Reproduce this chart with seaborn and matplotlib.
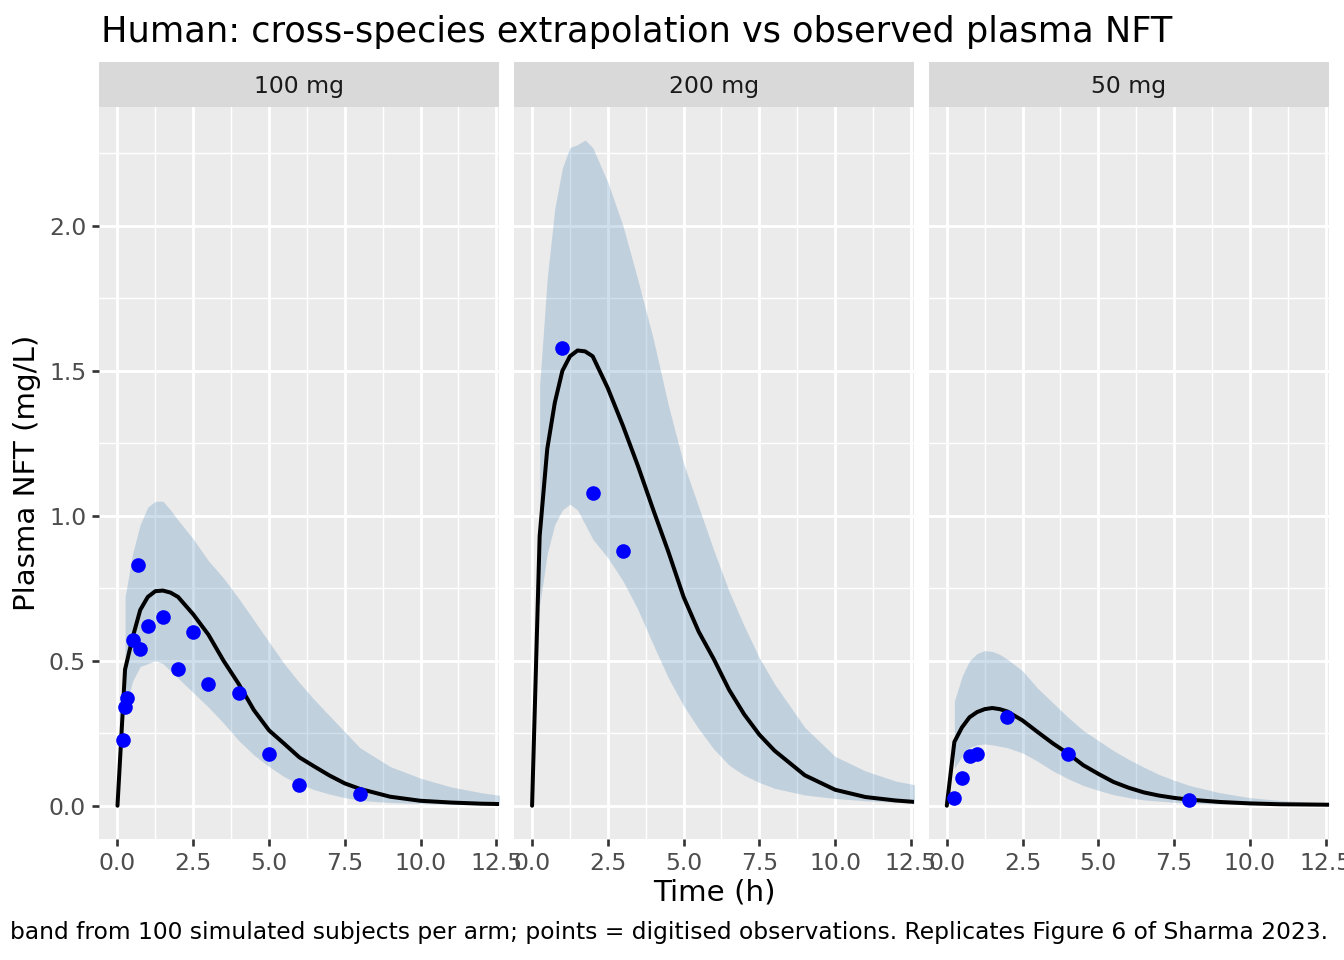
import numpy as np
import pandas as pd
import matplotlib
matplotlib.use("Agg")
import matplotlib.pyplot as plt
from matplotlib.ticker import MultipleLocator, FormatStrFormatter
import seaborn as sns

# simulation time grid (h)
time = [0, 0.25, 0.5, 0.75, 1.0, 1.25, 1.5, 1.75, 2.0, 2.5, 3.0, 3.5, 4.0, 4.5,
        5.0, 5.5, 6.0, 6.5, 7.0, 7.5, 8.0, 9, 10, 11, 12, 13]
nan = np.nan

# median and 5-95% band per dose arm (mg/L)
med_100 = [0, 0.47, 0.58, 0.675, 0.72, 0.74, 0.742, 0.735, 0.72, 0.66, 0.59, 0.50, 0.42, 0.33,
           0.26, 0.214, 0.167, 0.135, 0.104, 0.077, 0.058, 0.031, 0.017, 0.011, 0.007, 0.005]
lo_100 = [nan, 0.33, 0.43, 0.48, 0.49, 0.50, 0.49, 0.465, 0.44, 0.39, 0.34, 0.285, 0.225, 0.175,
          0.135, 0.10, 0.075, 0.055, 0.04, 0.028, 0.018, 0.011, 0.008, 0.005, 0.004, 0.003]
hi_100 = [nan, 0.72, 0.87, 0.97, 1.03, 1.05, 1.05, 1.02, 0.985, 0.92, 0.845, 0.785, 0.715, 0.64,
          0.565, 0.49, 0.425, 0.365, 0.31, 0.255, 0.20, 0.135, 0.095, 0.065, 0.045, 0.03]

med_200 = [0, 0.93, 1.23, 1.39, 1.50, 1.55, 1.57, 1.567, 1.55, 1.44, 1.31, 1.17, 1.02, 0.875,
           0.72, 0.60, 0.505, 0.40, 0.315, 0.245, 0.19, 0.105, 0.055, 0.03, 0.018, 0.01]
lo_200 = [nan, 0.69, 0.87, 0.97, 1.02, 1.04, 1.02, 0.97, 0.92, 0.855, 0.775, 0.675, 0.555, 0.44,
          0.345, 0.265, 0.195, 0.14, 0.105, 0.08, 0.06, 0.037, 0.025, 0.017, 0.012, 0.009]
hi_200 = [nan, 1.45, 1.82, 2.06, 2.20, 2.27, 2.28, 2.296, 2.27, 2.15, 2.00, 1.81, 1.61, 1.38,
          1.18, 1.03, 0.88, 0.74, 0.62, 0.51, 0.42, 0.27, 0.17, 0.12, 0.085, 0.065]

med_50 = [0, 0.22, 0.27, 0.305, 0.323, 0.333, 0.337, 0.333, 0.325, 0.294, 0.254, 0.215, 0.18, 0.14,
          0.11, 0.082, 0.062, 0.046, 0.035, 0.027, 0.021, 0.013, 0.008, 0.005, 0.004, 0.003]
lo_50 = [nan, 0.13, 0.17, 0.20, 0.21, 0.213, 0.21, 0.205, 0.20, 0.182, 0.153, 0.12, 0.093, 0.07,
         0.053, 0.038, 0.028, 0.02, 0.016, 0.012, 0.009, 0.006, 0.004, 0.003, 0.002, 0.002]
hi_50 = [nan, 0.36, 0.445, 0.50, 0.525, 0.535, 0.532, 0.522, 0.505, 0.465, 0.405, 0.355, 0.305, 0.26,
         0.225, 0.19, 0.16, 0.133, 0.108, 0.088, 0.07, 0.045, 0.028, 0.018, 0.012, 0.008]

# digitised observations
obs_t_100 = [0.17, 0.25, 0.33, 0.5, 0.67, 0.75, 1, 1.5, 2, 2.5, 3, 4, 5, 6, 8]
obs_c_100 = [0.225, 0.34, 0.37, 0.57, 0.83, 0.54, 0.62, 0.65, 0.47, 0.60, 0.42, 0.39, 0.18, 0.07, 0.04]
obs_t_200 = [1, 2, 3]
obs_c_200 = [1.58, 1.08, 0.88]
obs_t_50 = [0.25, 0.5, 0.75, 1, 2, 4, 8]
obs_c_50 = [0.025, 0.095, 0.17, 0.18, 0.305, 0.18, 0.02]

doses = ["100 mg", "200 mg", "50 mg"]

sim = pd.concat([
    pd.DataFrame({"dose": d, "time": time, "median": m, "lo": lo, "hi": hi})
    for d, m, lo, hi in [("100 mg", med_100, lo_100, hi_100),
                         ("200 mg", med_200, lo_200, hi_200),
                         ("50 mg", med_50, lo_50, hi_50)]
], ignore_index=True)
obs = pd.concat([
    pd.DataFrame({"dose": d, "time": t, "conc": c})
    for d, t, c in [("100 mg", obs_t_100, obs_c_100),
                    ("200 mg", obs_t_200, obs_c_200),
                    ("50 mg", obs_t_50, obs_c_50)]
], ignore_index=True)

sns.set_theme(style="darkgrid", rc={
    "axes.facecolor": "#EBEBEB",
    "grid.color": "white",
    "axes.edgecolor": "none",
    "xtick.color": "#333333",
    "ytick.color": "#333333",
    "xtick.labelcolor": "#4D4D4D",
    "ytick.labelcolor": "#4D4D4D",
})
plt.rcParams["font.family"] = ["DejaVu Sans"]

W, H = 1344, 960
fig = plt.figure(figsize=(7, 5), dpi=192)
fig.patch.set_facecolor("white")

ymax = np.nanmax(sim["hi"])
ylim = (-0.05 * ymax, ymax * 1.05)
lefts = [99.3, 513.9, 928.6]
pw = 400
pbottom, ptop = 839, 106.7
strip_top = 62.3

for i, dose in enumerate(doses):
    ax = fig.add_axes([lefts[i] / W, (H - pbottom) / H, pw / W, (pbottom - ptop) / H])
    ax.set_axisbelow(True)
    d = sim[sim["dose"] == dose]
    ax.fill_between(d["time"], d["lo"], d["hi"], color="steelblue", alpha=0.25, lw=0)
    sns.lineplot(data=d, x="time", y="median", color="black", linewidth=1.5,
                 estimator=None, ax=ax)
    sns.scatterplot(data=obs[obs["dose"] == dose], x="time", y="conc", color="blue",
                    s=30, linewidth=0, ax=ax, zorder=3)
    ax.set_xlim(-0.6, 12.6)
    ax.set_ylim(*ylim)
    ax.xaxis.set_major_locator(MultipleLocator(2.5))
    ax.xaxis.set_minor_locator(MultipleLocator(1.25))
    ax.yaxis.set_major_locator(MultipleLocator(0.5))
    ax.yaxis.set_minor_locator(MultipleLocator(0.25))
    ax.xaxis.set_major_formatter(FormatStrFormatter("%.1f"))
    ax.yaxis.set_major_formatter(FormatStrFormatter("%.1f"))
    ax.grid(which="major", color="white", linewidth=1.07)
    ax.grid(which="minor", color="white", linewidth=0.53)
    ax.tick_params(which="minor", length=0)
    ax.tick_params(axis="x", which="major", bottom=True, length=2.75, width=1.0,
                   pad=2.2, labelsize=8.8)
    if i == 0:
        ax.tick_params(axis="y", which="major", left=True, length=2.75, width=1.0,
                       pad=2.2, labelsize=8.8)
    else:
        ax.tick_params(axis="y", which="both", left=False, labelleft=False)
    ax.set_xlabel("")
    ax.set_ylabel("")
    for s in ax.spines.values():
        s.set_visible(False)

    sax = fig.add_axes([lefts[i] / W, (H - ptop) / H, pw / W, (ptop - strip_top) / H])
    sax.set_facecolor("#D9D9D9")
    sax.set_xticks([])
    sax.set_yticks([])
    sax.grid(False)
    for s in sax.spines.values():
        s.set_visible(False)
    sax.text(0.5, 0.45, dose, ha="center", va="center", fontsize=8.8,
             color="#1A1A1A", transform=sax.transAxes)

fig.text(101 / W, (H - 41.7) / H, "Human: cross-species extrapolation vs observed plasma NFT",
         fontsize=13.2, ha="left", va="baseline", color="black")
fig.text(27 / W, (H - (pbottom + ptop) / 2) / H, "Plasma NFT (mg/L)", rotation=90,
         fontsize=11, ha="center", va="center", color="black")
fig.text(((lefts[0] + lefts[2] + pw) / 2) / W, (H - 893) / H, "Time (h)",
         fontsize=11, ha="center", va="center", color="black")
fig.text(1328 / W, (H - 932) / H,
         "band from 100 simulated subjects per arm; points = digitised observations. "
         "Replicates Figure 6 of Sharma 2023.",
         fontsize=8.75, ha="right", va="center", color="black")

fig.savefig("out.png", dpi=192)
